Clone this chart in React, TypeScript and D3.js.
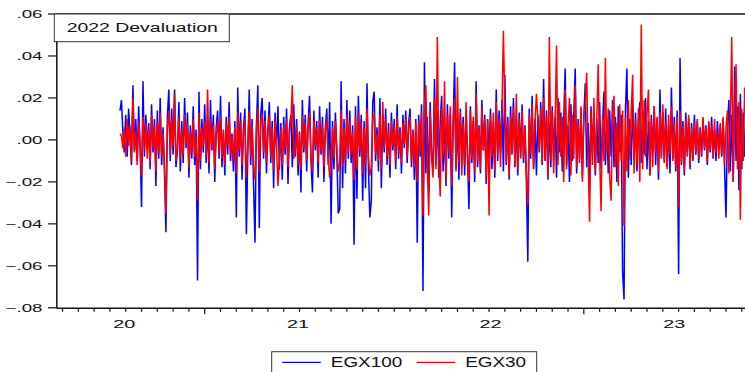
import React, { useRef, useEffect } from "react";
import * as d3 from "d3";

// daily returns, in thousandths (12 = .012), one point per ~2 trading days, Jan 2020 -> mid 2023
const egx100 = [
  14, 19, 4, -6, 12, -8, 15, 2, -12, 26, -5, 10, -10, 16, -3, -32, 28, -8, 12, -4,
  8, -14, 17, -6, 10, -22, 14, -9, 20, -12, 6, -16, -44, 11, 24, -10, 15, -7, 24, -13,
  -5, 18, -15, 9, -11, 20, -4, 13, -18, 7, -9, 16, -12, 5, -67, 23, -14, 10, -6, 17,
  -11, 8, -16, 19, -5, 12, -20, 6, 14, -9, 21, -13, 4, -17, 11, -7, 18, -10, 3, -15,
  9, -37, 25, -8, 13, -19, 6, 15, -45, -6, 24, -12, 10, -21, -49, 7, 26, -42, 12, 20,
  -9, 14, -16, 5, 18, -11, 9, -23, 13, -4, 16, -14, 8, -19, 11, -7, 15, -21, 6, 12,
  -13, 17, -8, 10, -17, 4, -25, 19, -6, 12, -15, 8, 21, -10, -25, 14, -5, 9, -18, 16,
  -7, 11, -20, 6, 15, -12, 18, -40, 9, -14, 13, -6, -35, -33, 28, -23, 10, -16, 19, -9,
  14, -11, 7, -50, 16, -28, 21, -8, 12, -29, 9, -23, 27, -13, -37, -29, 18, 23, -10, 6,
  -15, 20, -23, 11, -6, 15, -12, 8, -18, 13, -5, 10, -14, 17, -9, 6, -16, 12, -4, 14,
  -11, 8, 15, -13, 5, -19, 10, -49, 12, -8, 17, -72, 37, -16, 11, -25, 18, -7, -14, 29,
  -12, 14, -18, 9, 21, -15, 6, -22, 17, -9, 12, -37, 8, 37, -14, 10, -19, 15, -6, 11,
  -17, 13, -8, -33, 16, -11, 9, -20, 28, -13, 7, -16, 19, -5, 12, -21, 10, -9, 15, -14,
  8, -18, 24, -10, 14, -6, 19, -15, 31, -12, 11, -19, 16, -7, 20, -13, 9, -17, 13, -8,
  17, -11, 7, -20, -58, 15, -9, 21, -14, 10, -17, 12, -6, 18, -12, 29, -10, 14, -19, 8,
  -13, 16, -8, 11, -18, 20, -6, 13, -15, 9, 34, -12, 7, -20, 17, -10, 12, 34, -16, 10,
  -9, 15, -18, 11, 27, -13, 8, -21, 16, -7, 13, -17, 10, -11, 18, -14, 6, 23, -12, 9,
  -16, 14, -8, 19, -13, 11, -20, 16, -6, 12, -63, -76, 15, 34, -18, 10, -12, 17, -9, 13,
  -15, 8, 18, -11, 14, -7, 20, -14, 9, -17, 12, -6, 16, -12, 10, -19, 24, -8, 13, -10,
  15, -13, 7, -16, 25, -9, 11, -15, 14, -64, 39, -12, 9, -17, 13, -6, 10, -14, 8, -10,
  12, -7, 9, -11, 6, -8, 10, -5, 7, -12, 8, -6, 11, -9, 5, -10, 9, -4, 7, -8,
  10, -13, -37, 6, 19, -15, 12, -20, 35, -10, 16, -24, 22, -14, 13, -8, 11,
];

const egx30 = [
  3, 2, -4, 6, -8, 10, -3, 7, -10, 20, -6, 4, -12, 9, -2, -17, 11, -5, 8, -9,
  5, -11, 12, -4, 7, -15, 9, -6, 13, -8, 3, -12, -35, 6, 14, -7, 10, -3, 22, -10,
  -4, 11, -9, 5, -7, 12, -2, 8, -13, 4, -6, 10, -8, 2, -29, 13, -10, 6, -3, 9,
  -8, 24, -11, 10, -4, 7, -14, 3, 9, -6, 12, -9, 5, -12, 8, -3, 11, -7, 2, -10,
  6, -16, 13, -5, 9, -12, 4, 10, -18, -3, 14, -8, 7, -13, -19, 5, 15, -15, 8, 12,
  -6, 9, -11, 3, 12, -8, 6, -14, 10, -3, -22, -9, 5, -12, 7, -4, 10, -13, 4, 8,
  26, -9, -5, 7, -12, 3, -14, 12, -4, 8, -10, 5, 13, -7, -15, 9, -3, 6, -11, 10,
  -5, 7, -13, 4, 10, -8, -18, -12, 6, -9, 9, -4, -15, -11, 14, -13, 6, -10, 12, -6,
  9, -7, 4, -19, 11, -14, 13, -5, 8, -16, 6, -12, 15, -8, -17, -13, 11, 12, -7, 3,
  -10, 12, -14, 18, -4, 10, -8, 5, -12, 9, -3, 7, -10, 11, -6, 4, -11, 8, -2, 10,
  -8, 6, 11, -10, 4, -13, 8, -20, 9, -6, 13, -36, 17, 26, -12, -36, 14, -9, -18, 20,
  -14, 49, -10, -27, 15, -8, 28, -19, 12, -6, 16, -22, 10, 20, -15, 30, -11, 13, -17, 8,
  -12, 18, -7, -20, 14, -9, 11, -16, 22, -10, 6, -14, 15, -5, 10, -18, 9, -36, 12, -8,
  13, -15, 18, -7, 10, -13, 16, 52, 14, -11, 9, -17, 12, -6, 15, -12, 22, -14, 10, -9,
  14, -8, 6, -16, -31, 12, -7, 17, -13, 8, 22, 10, -5, 15, -11, 20, -9, 12, -18, 49,
  -10, 14, -16, 9, 45, -12, 18, -8, 11, -20, 24, -14, 7, 20, -17, 12, -9, 26, -13, 8,
  -11, 16, -20, 10, 18, 32, -9, -39, 14, -12, 20, -15, 9, 36, -8, -34, 12, -10, 39, -6,
  15, -18, -29, 12, 21, -13, 8, -22, 17, -10, 14, -41, 11, -15, 19, -9, 13, 31, -16, 10,
  -12, 15, -20, 55, -14, 19, -8, 12, 24, -17, 10, -13, 16, -6, 11, -15, 13, -9, 17, -11,
  9, -14, 12, -7, 16, -10, 8, -13, 11, -32, 14, -11, 7, -15, 10, -8, 12, -12, 6, -9,
  8, -6, 10, -9, 5, -7, 11, -4, 6, -10, 9, -5, 7, -8, 10, -6, 4, -9, 8, -7,
  11, -12, 6, 14, -16, 9, 49, -20, 12, 36, -14, 18, -38, 15, -10, 25, 8,
];

const yTicks = [0.06, 0.04, 0.02, 0, -0.02, -0.04, -0.06, -0.08];
const yearLabels = ["20", "21", "22", "23"];
const yearLabelObs = [3, 124, 258, 386]; // observation index under each label
const tickStartObs = -40;
const tickStepObs = 11;
const majorTicks = [9, 33]; // which ticks are drawn long

const App = () => {
  const svgRef = useRef(null);

  useEffect(() => {
    const svg = d3.select(svgRef.current);
    svg.selectAll("*").remove();
    const width = 745;
    const height = 372;
    const left = 56.8;
    const top = 14;
    const bottom = 307.8;
    const font = "'Liberation Sans', Arial, sans-serif";

    svg.attr("width", width).attr("height", height);

    const x = d3.scaleLinear().domain([-44, 436]).range([left, 746.1]);
    const y = d3.scaleLinear().domain([-0.08, 0.06]).range([bottom, top]);

    const stretched = (g, tx, ty, sx, txt, anchor, size) =>
      g
        .append("text")
        .attr("transform", `translate(${tx},${ty}) scale(${sx},1)`)
        .attr("text-anchor", anchor)
        .attr("font-family", font)
        .attr("font-size", size)
        .attr("fill", "#111")
        .text(txt);

    // series (blue under red)
    const line = d3
      .line()
      .x((d, i) => x(i))
      .y((d) => y(d / 1000));

    svg
      .append("path")
      .datum(egx100)
      .attr("fill", "none")
      .attr("stroke", "#0000ff")
      .attr("stroke-width", 1.5)
      .attr("d", line);

    svg
      .append("path")
      .datum(egx30)
      .attr("fill", "none")
      .attr("stroke", "#ff0000")
      .attr("stroke-width", 1.5)
      .attr("d", line);

    // frame
    const frame = svg.append("g").attr("stroke", "#111").attr("stroke-width", 1.5);
    frame.append("line").attr("x1", left).attr("x2", width + 5).attr("y1", top).attr("y2", top);
    frame.append("line").attr("x1", left).attr("x2", left).attr("y1", top).attr("y2", bottom + 0.5);
    frame.append("line").attr("x1", left).attr("x2", width + 5).attr("y1", bottom + 0.5).attr("y2", bottom + 0.5);

    // y axis
    const ya = svg.append("g");
    yTicks.forEach((t) => {
      ya.append("line")
        .attr("x1", 48)
        .attr("x2", left)
        .attr("y1", y(t))
        .attr("y2", y(t))
        .attr("stroke", "#111")
        .attr("stroke-width", 1.2);
      const lab = t === 0 ? ".00" : d3.format(".2f")(t).replace("0.", ".");
      stretched(ya, 42.5, y(t) + 4, 1.7, lab, "end", 11);
    });

    // x axis
    const xa = svg.append("g");
    d3.range(0, 44).forEach((k) => {
      const px = x(tickStartObs + k * tickStepObs);
      xa.append("line")
        .attr("x1", px)
        .attr("x2", px)
        .attr("y1", bottom + 0.5)
        .attr("y2", bottom + (majorTicks.includes(k) ? 6.5 : 4))
        .attr("stroke", "#111")
        .attr("stroke-width", 1.2);
    });
    yearLabels.forEach((lab, i) => {
      stretched(xa, x(yearLabelObs[i]), 328, 1.8, lab, "middle", 11);
    });

    // title box
    svg
      .append("rect")
      .attr("x", 54.3)
      .attr("y", top)
      .attr("width", 175)
      .attr("height", 27.7)
      .attr("fill", "#fff")
      .attr("stroke", "#333")
      .attr("stroke-width", 1);
    stretched(svg, 66.7, 32, 1.44, "2022 Devaluation", "start", 13.5);

    // legend
    svg
      .append("rect")
      .attr("x", 271.7)
      .attr("y", 351.7)
      .attr("width", 265)
      .attr("height", 30)
      .attr("fill", "#fff")
      .attr("stroke", "#333")
      .attr("stroke-width", 1);
    const legend = [
      { name: "EGX100", color: "#0000ff", x0: 282.3 },
      { name: "EGX30", color: "#ff0000", x0: 416.7 },
    ];
    legend.forEach((l) => {
      svg
        .append("line")
        .attr("x1", l.x0)
        .attr("x2", l.x0 + 38.5)
        .attr("y1", 362.3)
        .attr("y2", 362.3)
        .attr("stroke", l.color)
        .attr("stroke-width", 1.3);
      stretched(svg, l.x0 + 48.5, 366.5, 1.35, l.name, "start", 14);
    });
  }, []);

  return (
    <svg
      ref={svgRef}
      style={{ position: "absolute", left: 0, top: 0, background: "#fff" }}
    ></svg>
  );
};

export default App;
